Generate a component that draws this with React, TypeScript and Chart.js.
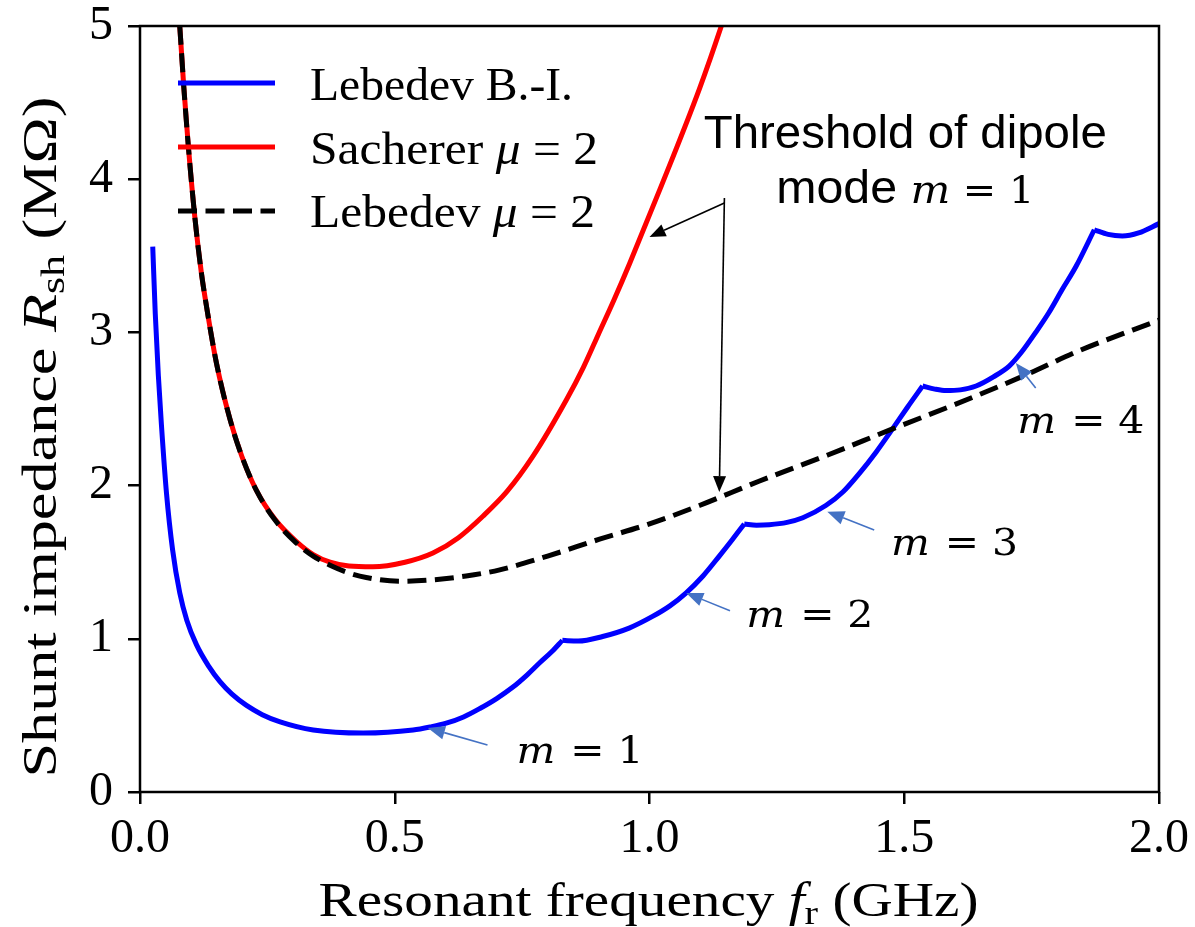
import React, { useEffect, useRef } from 'react';
import { Chart, registerables } from 'chart.js';

Chart.register(...registerables);

// ---------- data (frequency in GHz, shunt impedance in MΩ) ----------
// Lebedev B.-I. threshold, one branch per azimuthal mode
const m1Freq = [0.025, 0.03, 0.036, 0.042, 0.052, 0.064, 0.078, 0.092, 0.111, 0.135, 0.157, 0.18, 0.209, 0.24, 0.275, 0.34, 0.438, 0.536, 0.57, 0.601, 0.635, 0.667, 0.7, 0.732, 0.76, 0.784, 0.808, 0.829];
const m1Rsh = [3.56, 3.12, 2.72, 2.4, 1.95, 1.58, 1.3, 1.12, 0.96, 0.82, 0.72, 0.64, 0.565, 0.505, 0.458, 0.405, 0.385, 0.405, 0.425, 0.449, 0.49, 0.545, 0.61, 0.685, 0.765, 0.842, 0.915, 0.99];
const m2Freq = [0.829, 0.86, 0.908, 0.96, 1.006, 1.04, 1.072, 1.105, 1.137, 1.162, 1.186];
const m2Rsh = [0.99, 0.985, 1.015, 1.07, 1.146, 1.215, 1.3, 1.41, 1.54, 1.645, 1.75];
const m3Freq = [1.186, 1.21, 1.235, 1.27, 1.301, 1.346, 1.38, 1.412, 1.445, 1.477, 1.506, 1.536];
const m3Rsh = [1.75, 1.742, 1.745, 1.76, 1.79, 1.87, 1.96, 2.08, 2.22, 2.37, 2.51, 2.65];
const m4Freq = [1.536, 1.56, 1.582, 1.61, 1.641, 1.675, 1.706, 1.73, 1.758, 1.784, 1.81, 1.837, 1.873];
const m4Rsh = [2.65, 2.63, 2.62, 2.625, 2.65, 2.71, 2.78, 2.87, 3.0, 3.13, 3.28, 3.43, 3.67];
const m5Freq = [1.873, 1.9, 1.928, 1.96, 2.0];
const m5Rsh = [3.67, 3.64, 3.63, 3.65, 3.71];

// Sacherer mu = 2
const sachFreq = [0.074, 0.078, 0.086, 0.095, 0.108, 0.12, 0.131, 0.15, 0.176, 0.2, 0.229, 0.265, 0.307, 0.34, 0.373, 0.41, 0.457, 0.52, 0.575, 0.625, 0.673, 0.72, 0.771, 0.837, 0.87, 0.9, 0.93, 0.961, 1.02, 1.098, 1.141, 1.16];
const sachRsh = [5.18, 5.0, 4.6, 4.21, 3.74, 3.4, 3.16, 2.8, 2.44, 2.19, 1.965, 1.78, 1.635, 1.55, 1.5, 1.475, 1.47, 1.5, 1.56, 1.66, 1.8, 1.96, 2.19, 2.56, 2.77, 2.99, 3.21, 3.45, 3.93, 4.59, 5.0, 5.2];

// Lebedev mu = 2
const lebFreq = [0.074, 0.078, 0.086, 0.095, 0.108, 0.12, 0.131, 0.15, 0.176, 0.2, 0.229, 0.265, 0.307, 0.34, 0.373, 0.41, 0.444, 0.51, 0.575, 0.64, 0.706, 0.8, 0.902, 1.0, 1.098, 1.216, 1.35, 1.477, 1.6, 1.737, 1.843, 2.0];
const lebRsh = [5.18, 5.0, 4.6, 4.21, 3.74, 3.4, 3.16, 2.8, 2.44, 2.19, 1.965, 1.775, 1.625, 1.54, 1.48, 1.43, 1.4, 1.375, 1.385, 1.41, 1.45, 1.54, 1.65, 1.75, 1.87, 2.03, 2.2, 2.37, 2.53, 2.72, 2.88, 3.08];

const xTicks = [0, 0.5, 1.0, 1.5, 2.0];
const yTicks = [0, 1, 2, 3, 4, 5];

const legendLabels = ['Lebedev B.-I.', 'Sacherer', 'Lebedev'];
const modeLabels = ['1', '2', '3', '4'];

// annotation anchors in data coordinates
const modeArrowTail = [[0.682, 0.307], [1.158, 1.183], [1.441, 1.71], [1.758, 2.637]];
const modeArrowTip = [[0.565, 0.418], [1.072, 1.299], [1.349, 1.83], [1.719, 2.8]];
const modeTextPos = [[0.739, 0.187], [1.19, 1.079], [1.474, 1.547], [1.722, 2.341]];

// ---------- styles ----------
const SERIF = "'Liberation Serif', 'Times New Roman', serif";
const SANS = "'Liberation Sans', Arial, sans-serif";
const MATH = "'DejaVu Serif', serif";
const BLUE = '#0000ff';
const RED = '#ff0000';
const ARROW_BLUE = '#4472c4';
const LW = 5;
const DASH = [19, 8.5];

type Seg = { t: string; f: string; dy?: number; gap?: number };

function drawRich(ctx: CanvasRenderingContext2D, segs: Seg[], x: number, y: number, align: 'left' | 'center', fit?: number) {
  let total = 0;
  const widths = segs.map((s) => {
    ctx.font = s.f;
    const w = ctx.measureText(s.t).width + (s.gap || 0);
    total += w;
    return w;
  });
  const k = fit ? fit / total : 1;
  ctx.save();
  ctx.translate(align === 'center' ? x - (total * k) / 2 : x, y);
  ctx.scale(k, 1);
  ctx.textBaseline = 'alphabetic';
  ctx.textAlign = 'left';
  ctx.fillStyle = '#000';
  let cx = 0;
  segs.forEach((s, i) => {
    ctx.font = s.f;
    ctx.fillText(s.t, cx, s.dy || 0);
    cx += widths[i];
  });
  ctx.restore();
}

function drawArrow(ctx: CanvasRenderingContext2D, x1: number, y1: number, x2: number, y2: number, color: string, lw: number, hl: number, hw: number) {
  const a = Math.atan2(y2 - y1, x2 - x1);
  const bx = x2 - hl * Math.cos(a);
  const by = y2 - hl * Math.sin(a);
  ctx.save();
  ctx.strokeStyle = color;
  ctx.fillStyle = color;
  ctx.lineWidth = lw;
  ctx.setLineDash([]);
  ctx.beginPath();
  ctx.moveTo(x1, y1);
  ctx.lineTo(bx, by);
  ctx.stroke();
  ctx.beginPath();
  ctx.moveTo(x2, y2);
  ctx.lineTo(bx + (hw / 2) * Math.sin(a), by - (hw / 2) * Math.cos(a));
  ctx.lineTo(bx - (hw / 2) * Math.sin(a), by + (hw / 2) * Math.cos(a));
  ctx.closePath();
  ctx.fill();
  ctx.restore();
}

const pts = (xs: number[], ys: number[]) => xs.map((x, i) => ({ x, y: ys[i] }));

const decorPlugin = {
  id: 'decor',
  afterDraw(chart: any) {
    const { ctx, chartArea: ca, scales } = chart;
    const X = (v: number) => scales.x.getPixelForValue(v);
    const Y = (v: number) => scales.y.getPixelForValue(v);

    // spines
    ctx.save();
    ctx.strokeStyle = '#000';
    ctx.lineWidth = 2.5;
    ctx.setLineDash([]);
    ctx.strokeRect(ca.left, ca.top, ca.right - ca.left, ca.bottom - ca.top);
    ctx.restore();

    // legend
    const legStyles = [
      { c: BLUE, dash: [] as number[] },
      { c: RED, dash: [] as number[] },
      { c: '#000', dash: DASH },
    ];
    const legSegs: Seg[][] = [
      [{ t: legendLabels[0], f: `46px ${SERIF}` }],
      [{ t: legendLabels[1] + ' ', f: `46px ${SERIF}` }, { t: 'μ', f: `italic 46px ${SERIF}` }, { t: ' = 2', f: `46px ${SERIF}` }],
      [{ t: legendLabels[2] + ' ', f: `46px ${SERIF}` }, { t: 'μ', f: `italic 46px ${SERIF}` }, { t: ' = 2', f: `46px ${SERIF}` }],
    ];
    const legFit = [263, 288, 285];
    legStyles.forEach((s, i) => {
      const ly = ca.top + 57 + i * 64;
      ctx.save();
      ctx.strokeStyle = s.c;
      ctx.lineWidth = LW;
      ctx.setLineDash(s.dash);
      ctx.beginPath();
      ctx.moveTo(ca.left + 38, ly);
      ctx.lineTo(ca.left + 135, ly);
      ctx.stroke();
      ctx.restore();
      drawRich(ctx, legSegs[i], ca.left + 170, ca.top + 74 + i * 63.5, 'left', legFit[i]);
    });

    // mode arrows and labels
    modeArrowTail.forEach((t, i) => {
      const h = modeArrowTip[i];
      drawArrow(ctx, X(t[0]), Y(t[1]), X(h[0]), Y(h[1]), ARROW_BLUE, 1.6, 17, 14);
      const p = modeTextPos[i];
      drawRich(
        ctx,
        [
          { t: 'm', f: `italic 38px ${MATH}`, gap: 14 },
          { t: '=', f: `38px ${MATH}`, gap: 12 },
          { t: modeLabels[i], f: `38px ${MATH}` },
        ],
        X(p[0]),
        Y(p[1]),
        'left',
        127
      );
    });

    // threshold text
    const cx = X(1.502);
    drawRich(ctx, [{ t: 'Threshold of dipole', f: `46px ${SANS}` }], cx, Y(4.204), 'center', 403);
    drawRich(
      ctx,
      [
        { t: 'mode ', f: `46px ${SANS}` },
        { t: 'm', f: `italic 40px ${MATH}`, gap: 12 },
        { t: '=', f: `38px ${MATH}`, gap: 12 },
        { t: '1', f: `38px ${MATH}` },
      ],
      cx,
      Y(3.843),
      'center',
      258
    );
    // black arrows
    drawArrow(ctx, X(1.147), Y(3.877), X(1.137), Y(1.958), '#000', 1.6, 16, 13);
    drawArrow(ctx, X(1.147), Y(3.845), X(1.0), Y(3.623), '#000', 1.6, 16, 13);

    // axis titles
    drawRich(
      ctx,
      [
        { t: 'Resonant frequency ', f: `48px ${SERIF}` },
        { t: 'f', f: `italic 48px ${SERIF}` },
        { t: 'r', f: `34px ${SERIF}`, dy: 8 },
        { t: ' (GHz)', f: `48px ${SERIF}` },
      ],
      (ca.left + ca.right) / 2 - 1,
      ca.bottom + 124,
      'center',
      660
    );
    ctx.save();
    ctx.translate(56, 437);
    ctx.rotate(-Math.PI / 2);
    drawRich(
      ctx,
      [
        { t: 'Shunt impedance ', f: `48px ${SERIF}` },
        { t: 'R', f: `italic 48px ${SERIF}` },
        { t: 'sh', f: `34px ${SERIF}`, dy: 8 },
        { t: ' (MΩ)', f: `48px ${SERIF}` },
      ],
      0,
      0,
      'center',
      681
    );
    ctx.restore();
  },
};

export default function App() {
  const ref = useRef<HTMLCanvasElement | null>(null);

  useEffect(() => {
    if (!ref.current) return;
    const line = (data: any, color: string, order: number, dash: number[] = []) => ({
      data,
      borderColor: color,
      backgroundColor: color,
      borderWidth: LW,
      borderDash: dash,
      pointRadius: 0,
      cubicInterpolationMode: 'monotone' as const,
      fill: false,
      order,
      clip: 0,
    });
    const chart = new Chart(ref.current, {
      type: 'line',
      data: {
        datasets: [
          line(pts(lebFreq, lebRsh), '#000', 0, DASH),
          line(pts(sachFreq, sachRsh), RED, 1),
          line(pts(m1Freq, m1Rsh), BLUE, 2),
          line(pts(m2Freq, m2Rsh), BLUE, 2),
          line(pts(m3Freq, m3Rsh), BLUE, 2),
          line(pts(m4Freq, m4Rsh), BLUE, 2),
          line(pts(m5Freq, m5Rsh), BLUE, 2),
        ],
      },
      options: {
        animation: false,
        responsive: false,
        devicePixelRatio: 1,
        events: [],
        layout: { padding: { left: 0, top: 26, right: 36, bottom: 0 } },
        plugins: { legend: { display: false }, tooltip: { enabled: false }, title: { display: false } },
        scales: {
          x: {
            type: 'linear',
            min: xTicks[0],
            max: xTicks[xTicks.length - 1],
            afterBuildTicks: (s: any) => {
              s.ticks = xTicks.map((v) => ({ value: v }));
            },
            ticks: {
              autoSkip: false,
              maxRotation: 0,
              padding: 7,
              color: '#000',
              font: { family: SERIF, size: 48 },
              callback: (v: any) => Number(v).toFixed(1),
            },
            grid: { display: true, drawOnChartArea: false, drawTicks: true, tickLength: 12, color: '#000', lineWidth: 2.5 },
            border: { display: false },
            afterFit: (s: any) => {
              s.height = 135;
              s.paddingLeft = 0;
              s.paddingRight = 0;
            },
          },
          y: {
            type: 'linear',
            min: yTicks[0],
            max: yTicks[yTicks.length - 1],
            afterBuildTicks: (s: any) => {
              s.ticks = yTicks.map((v) => ({ value: v }));
            },
            ticks: {
              autoSkip: false,
              padding: 15,
              color: '#000',
              font: { family: SERIF, size: 48 },
              callback: (v: any) => String(v),
            },
            grid: { display: true, drawOnChartArea: false, drawTicks: true, tickLength: 12, color: '#000', lineWidth: 2.5 },
            border: { display: false },
            afterFit: (s: any) => {
              s.width = 140;
              s.paddingTop = 0;
              s.paddingBottom = 0;
            },
          },
        },
      },
      plugins: [decorPlugin],
    } as any);
    return () => chart.destroy();
  }, []);

  return (
    <div style={{ position: 'absolute', left: 0, top: 0, width: 1195, height: 927, background: '#fff' }}>
      <canvas ref={ref} width={1195} height={927} style={{ display: 'block', width: 1195, height: 927 }} />
    </div>
  );
}
